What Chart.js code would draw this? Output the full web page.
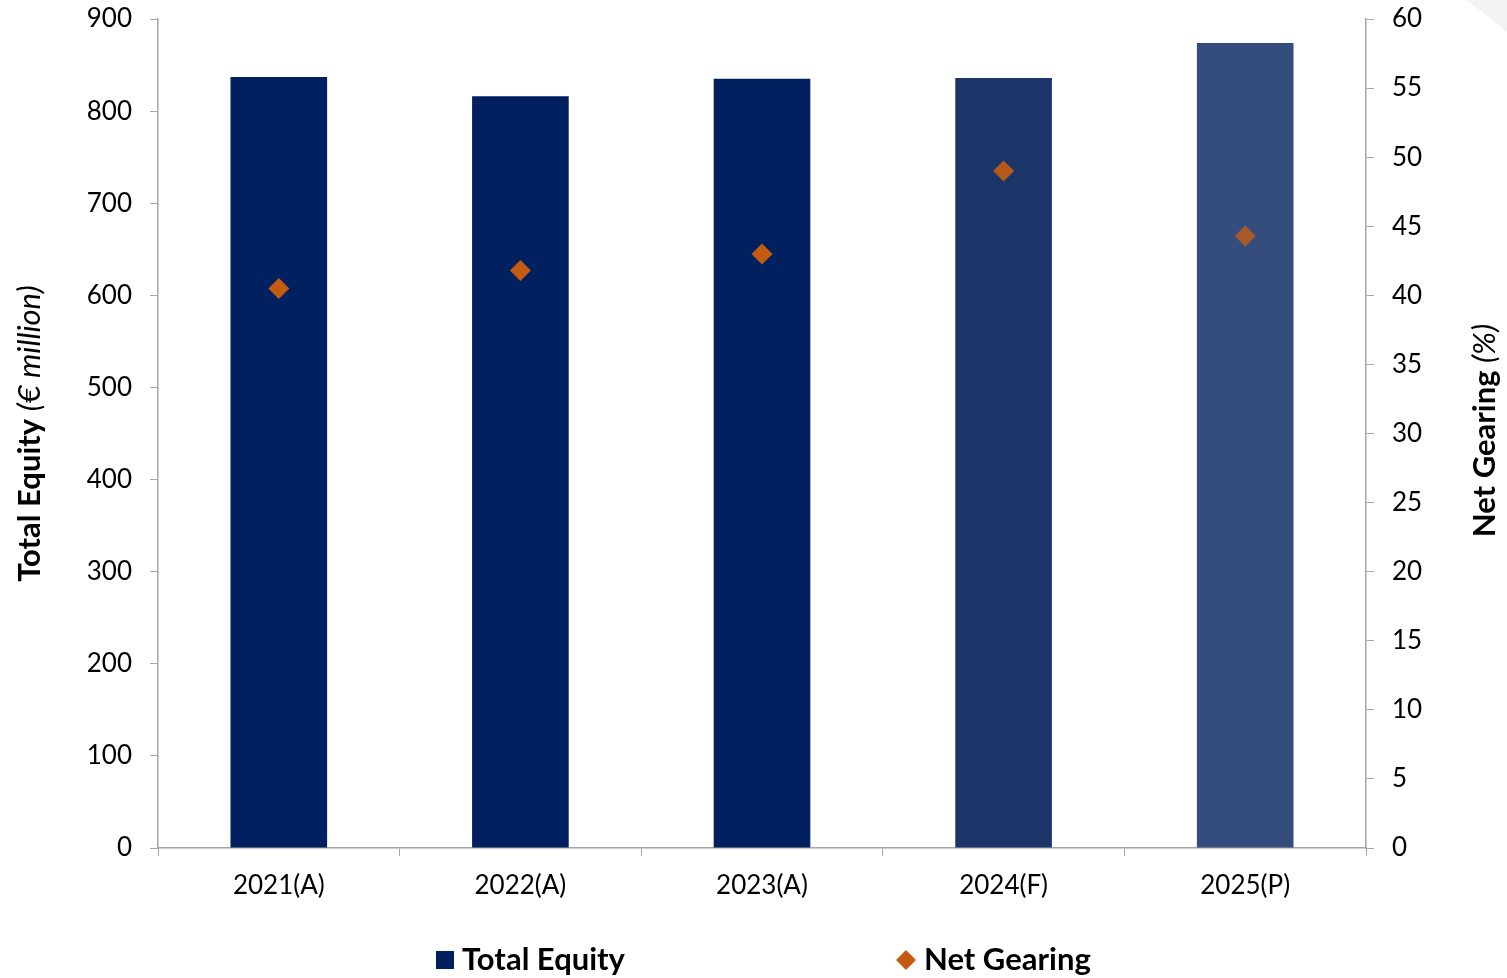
<html>
<head>
    <meta charset="UTF-8">
    <script src="https://cdn.jsdelivr.net/npm/chart.js"></script>
    <title>Total Equity / Net Gearing</title>
    <style>
        body { margin: 0; background: #fff; }
    </style>
</head>
<body>
    <div style="width: 1507px; height: 978px;"><canvas id="equity" width="1507" height="978"></canvas></div>
    <script>
        const years = ['2021(A)', '2022(A)', '2023(A)', '2024(F)', '2025(P)'];
        const totalEquity = [837, 816, 835, 836, 874];      // € million
        const netGearing = [40.5, 41.8, 43.0, 49.0, 44.3];   // %
        const equityTicks = [0, 900, 100];
        const gearingTicks = [0, 60, 5];

        const barColors = ['#002060', '#002060', '#002060', '#1b3569', '#344d7c'];
        const dotColors = ['#c55a11', '#c55a11', '#c55a11', '#b5581b', '#a85a2a'];
        const axisColor = '#a6a6a6';
        const fontFamily = 'Lato, "Open Sans", sans-serif';

        // axis titles, legend and the corner shape are drawn by hand
        const extras = {
            id: 'extras',
            beforeDraw(chart) {
                const ctx = chart.ctx;
                ctx.save();
                ctx.fillStyle = '#f2f2f2';
                ctx.beginPath();
                ctx.moveTo(chart.width - 40, 0);
                ctx.lineTo(chart.width, 0);
                ctx.lineTo(chart.width, 32);
                ctx.closePath();
                ctx.fill();
                ctx.restore();
            },
            afterDraw(chart) {
                const ctx = chart.ctx;
                const area = chart.chartArea;
                const midY = (area.top + area.bottom) / 2;

                function vTitle(x, y, bold, italic) {
                    ctx.save();
                    ctx.translate(x, y);
                    ctx.rotate(-Math.PI / 2);
                    ctx.fillStyle = '#000';
                    ctx.textBaseline = 'middle';
                    ctx.font = 'bold 31px ' + fontFamily;
                    const w1 = ctx.measureText(bold).width;
                    ctx.font = 'italic 31px ' + fontFamily;
                    const w2 = ctx.measureText(italic).width;
                    let start = -(w1 + w2) / 2;
                    ctx.textAlign = 'left';
                    ctx.font = 'bold 31px ' + fontFamily;
                    ctx.fillText(bold, start, 0);
                    ctx.font = 'italic 31px ' + fontFamily;
                    ctx.fillText(italic, start + w1, 0);
                    ctx.restore();
                }
                vTitle(30, midY, 'Total Equity ', '(€ million)');
                vTitle(1485, midY - 3, 'Net Gearing ', '(%)');

                // legend
                const ly = 960;
                ctx.save();
                ctx.fillStyle = barColors[0];
                ctx.fillRect(436, ly - 9, 18, 18);
                ctx.fillStyle = dotColors[0];
                ctx.beginPath();
                ctx.moveTo(906, ly - 10);
                ctx.lineTo(916, ly);
                ctx.lineTo(906, ly + 10);
                ctx.lineTo(896, ly);
                ctx.closePath();
                ctx.fill();
                ctx.fillStyle = '#000';
                ctx.font = 'bold 31px ' + fontFamily;
                ctx.textBaseline = 'middle';
                ctx.textAlign = 'left';
                ctx.fillText('Total Equity', 462, ly);
                ctx.fillText('Net Gearing', 924, ly);
                ctx.restore();
            }
        };

        const tickFont = { family: fontFamily, size: 26 };

        // fixed axis sizes so the plot box sits where it should
        function fixWidth(w) {
            return s => { s.width = w; s.paddingTop = 0; s.paddingBottom = 0; };
        }

        const config = {
            type: 'bar',
            data: {
                labels: years,
                datasets: [{
                    type: 'line',
                    label: 'Net Gearing',
                    data: netGearing,
                    yAxisID: 'y1',
                    showLine: false,
                    pointStyle: 'rectRot',
                    pointRadius: 10.5,
                    pointHoverRadius: 10.5,
                    pointBackgroundColor: dotColors,
                    pointBorderWidth: 0,
                    order: 0
                }, {
                    label: 'Total Equity',
                    data: totalEquity,
                    yAxisID: 'y',
                    backgroundColor: barColors,
                    barPercentage: 0.4,
                    categoryPercentage: 1.0,
                    order: 1
                }]
            },
            plugins: [extras],
            options: {
                responsive: false,
                animation: false,
                layout: { padding: { top: 19, left: 0, right: 0, bottom: 0 } },
                plugins: {
                    legend: { display: false },
                    tooltip: { enabled: false }
                },
                scales: {
                    x: {
                        grid: { offset: true, drawOnChartArea: false, tickLength: 8, color: axisColor },
                        border: { color: axisColor, width: 1.5 },
                        ticks: { color: '#000', font: tickFont, padding: 14 },
                        afterFit: s => { s.height = 130; s.paddingLeft = 0; s.paddingRight = 0; }
                    },
                    y: {
                        position: 'left',
                        min: equityTicks[0],
                        max: equityTicks[1],
                        ticks: { stepSize: equityTicks[2], color: '#000', font: tickFont, padding: 18 },
                        grid: { drawOnChartArea: false, tickLength: 8, color: axisColor },
                        border: { color: axisColor, width: 1.5 },
                        afterFit: fixWidth(158)
                    },
                    y1: {
                        position: 'right',
                        min: gearingTicks[0],
                        max: gearingTicks[1],
                        ticks: { stepSize: gearingTicks[2], color: '#000', font: tickFont, padding: 18 },
                        grid: { drawOnChartArea: false, tickLength: 8, color: axisColor },
                        border: { color: axisColor, width: 1.5 },
                        afterFit: fixWidth(141)
                    }
                }
            }
        };

        const myChart = new Chart(document.getElementById('equity'), config);
    </script>
</body>
</html>
